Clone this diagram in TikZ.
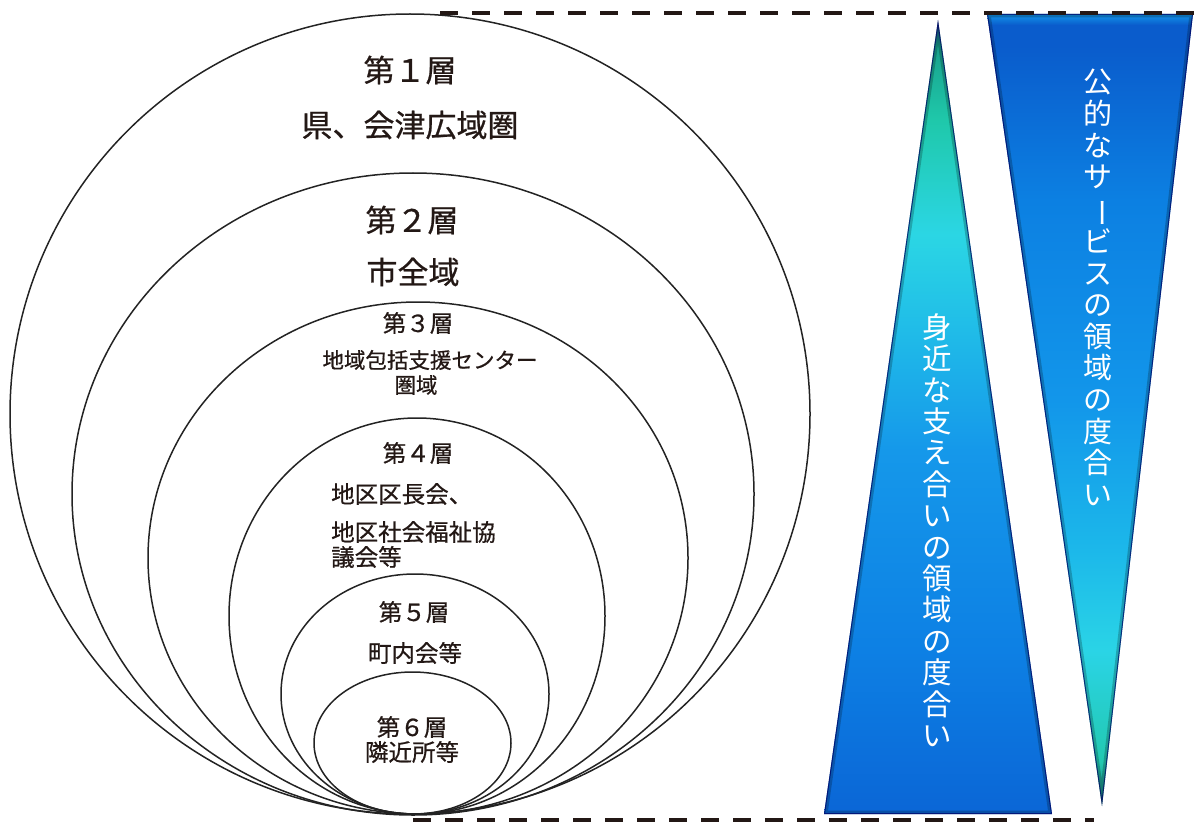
\documentclass[tikz,border=0pt]{standalone}
\usepackage{fontspec}
\usepackage{graphicx}
\setmainfont{Noto Sans CJK JP}
\newfontfamily\jpb[FakeBold=0.7]{Noto Sans CJK JP}
\definecolor{ink}{RGB}{35,24,21}
\definecolor{ringc}{RGB}{35,35,35}
% left triangle colours (top -> bottom)
\definecolor{lgA}{RGB}{32,60,140}
\definecolor{lgB}{RGB}{24,160,140}
\definecolor{lgC}{RGB}{31,200,170}
\definecolor{lgD}{RGB}{43,214,228}
\definecolor{lgE}{RGB}{32,188,232}
\definecolor{lgF}{RGB}{21,152,234}
\definecolor{lgG}{RGB}{13,128,228}
\definecolor{lgH}{RGB}{11,102,214}
% right triangle colours (top -> bottom)
\definecolor{rgA}{RGB}{10,92,204}
\definecolor{rgB}{RGB}{12,128,226}
\definecolor{rgC}{RGB}{18,150,234}
\definecolor{rgD}{RGB}{28,184,234}
\definecolor{rgE}{RGB}{42,212,230}
\definecolor{rgF}{RGB}{34,200,176}
\definecolor{rgG}{RGB}{26,120,120}
\pgfdeclareverticalshading{leftgrad}{100bp}{color(0bp)=(lgH); color(25bp)=(lgH); color(35.3bp)=(lgG); color(47.9bp)=(lgF); color(55.5bp)=(lgE); color(61.5bp)=(lgD); color(68.7bp)=(lgC); color(73.4bp)=(lgB); color(75bp)=(lgA); color(100bp)=(lgA)}
\pgfdeclareverticalshading{rightgrad}{100bp}{color(0bp)=(rgG); color(25bp)=(rgG); color(27.8bp)=(rgF); color(34.8bp)=(rgE); color(41.1bp)=(rgD); color(50.6bp)=(rgC); color(63.2bp)=(rgB); color(73bp)=(rgA); color(74.3bp)=(rgA); color(75bp)=(rgC); color(100bp)=(rgC)}
\tikzset{
  ring/.style={draw=ringc, line width=1.5pt},
  bigtxt/.style={inner sep=0pt, text=ink, font=\jpb\fontsize{31}{36}\selectfont},
  midtxt/.style={inner sep=0pt, text=ink, font=\jpb\fontsize{23.5}{26}\selectfont},
  smalltxt/.style={inner sep=0pt, text=ink, font=\jpb\fontsize{21.5}{25}\selectfont},
  vtxtL/.style={inner sep=0pt, text=white, align=center, font=\fontsize{29.5}{31.4}\selectfont},
  vtxtR/.style={inner sep=0pt, text=white, align=center, font=\fontsize{29}{31.6}\selectfont},
  dashline/.style={draw=ink, line width=4pt, dash pattern=on 18pt off 14pt},
  bevel/.style={draw=black, opacity=0.22, line width=7pt},
  edge/.style={draw=black!60!blue, opacity=0.7, line width=2pt}
}
\begin{document}
\begin{tikzpicture}[x=1pt,y=-1pt]
\useasboundingbox (0,0) rectangle (1198,821);
% nested rings
\draw[ring] (410,414) ellipse [x radius=400pt, y radius=400pt];
\draw[ring] (413,494) ellipse [x radius=341pt, y radius=321pt];
\draw[ring] (418,558) ellipse [x radius=270pt, y radius=256pt];
\draw[ring] (417,616) ellipse [x radius=188pt, y radius=198pt];
\draw[ring] (415,694) ellipse [x radius=134pt, y radius=120pt];
\draw[ring] (412.5,743) ellipse [x radius=98.5pt, y radius=71pt];
% texts
\node[bigtxt] (l1) at (410,70) {第１層};
\node[bigtxt] (l1t) at (410,125) {県、会津広域圏};
\node[bigtxt] (l2) at (412,220) {第２層};
\node[bigtxt] (l2t) at (413,272) {市全域};
\node[midtxt] (l3) at (418,323) {第３層};
\node[smalltxt] (l3t) at (430,360) {地域包括支援センター};
\node[smalltxt] (l3u) at (416,385) {圏域};
\node[midtxt] (l4) at (418,453) {第４層};
\node[midtxt, anchor=west] (l4t) at (331,494) {地区区長会、};
\node[midtxt, anchor=west] (l4u) at (331,532) {地区社会福祉協};
\node[midtxt, anchor=west] (l4v) at (331,557) {議会等};
\node[midtxt] (l5) at (414,612) {第５層};
\node[midtxt] (l5t) at (415,653) {町内会等};
\node[midtxt] (l6) at (412,727) {第６層};
\node[midtxt] (l6t) at (412,752) {隣近所等};
% left triangle (pointing up)
\coordinate (la) at (938,20);
\coordinate (lb) at (824,814);
\coordinate (lc) at (1052,814);
\begin{scope}
\clip (la) -- (lc) -- (lb) -- cycle;
\shade[shading=leftgrad] (824,20) rectangle (1052,814);
\draw[bevel] (la) -- (lc) -- (lb) -- cycle;
\draw[edge] (la) -- (lc) -- (lb) -- cycle;
\end{scope}
% right triangle (pointing down)
\coordinate (ra) at (987,14);
\coordinate (rb) at (1193,14);
\coordinate (rc) at (1102,806);
\begin{scope}
\clip (ra) -- (rb) -- (rc) -- cycle;
\shade[shading=rightgrad] (987,14) rectangle (1193,806);
\draw[bevel] (ra) -- (rb) -- (rc) -- cycle;
\draw[edge] (ra) -- (rb) -- (rc) -- cycle;
\end{scope}
% vertical texts
\node[vtxtL] (vl) at (937,530) {身\\近\\な\\支\\え\\合\\い\\の\\領\\域\\の\\度\\合\\い};
\node[vtxtR] (vr) at (1098,287.5) {公\\的\\な\\サ\\\rotatebox[origin=c]{-90}{ー}\\ビ\\ス\\の\\領\\域\\の\\度\\合\\い};
% dashed guide lines
\coordinate (t0) at (440,13);
\coordinate (t1) at (1198,13);
\coordinate (b0) at (413,819.5);
\coordinate (b1) at (1094,819.5);
\draw[dashline] (t0) -- (t1);
\draw[dashline] (b0) -- (b1);
\end{tikzpicture}
\end{document}
